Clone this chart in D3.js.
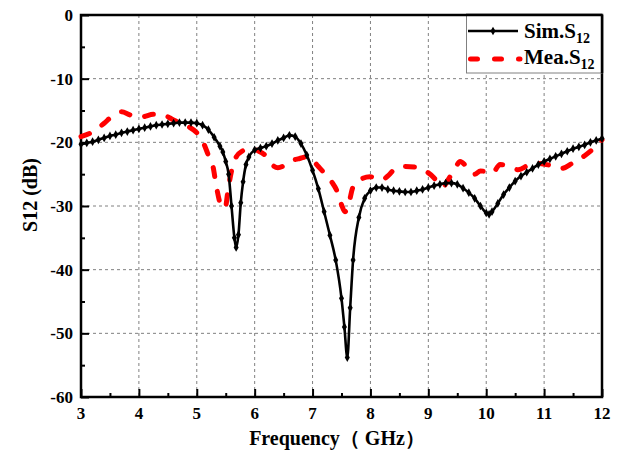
<!DOCTYPE html>
<html><head><meta charset="utf-8">
<script src="https://cdn.jsdelivr.net/npm/d3@7"></script>
<style>body{margin:0;background:#fff}svg{display:block}text{font-family:"Liberation Serif","Times New Roman",serif;font-weight:bold;fill:#000}</style>
</head><body><svg id="c" width="618" height="450"></svg>
<script>
const simFreq = [3.0,3.1,3.2,3.3,3.4,3.5,3.6,3.7,3.8,3.9,4.0,4.1,4.2,4.3,4.4,4.5,4.6,4.7,4.8,4.9,5.0,5.1,5.2,5.3,5.4,5.45,5.5,5.55,5.6,5.65,5.68,5.72,5.76,5.8,5.85,5.9,6.0,6.1,6.2,6.3,6.4,6.5,6.6,6.7,6.8,6.9,7.0,7.1,7.2,7.3,7.4,7.5,7.55,7.6,7.65,7.7,7.8,7.9,8.0,8.1,8.2,8.3,8.4,8.5,8.6,8.7,8.8,8.9,9.0,9.1,9.2,9.3,9.4,9.5,9.6,9.7,9.8,9.9,10.0,10.05,10.1,10.2,10.3,10.4,10.5,10.6,10.7,10.8,10.9,11.0,11.1,11.2,11.3,11.4,11.5,11.6,11.7,11.8,11.9,12.0];
const simS12 = [-20.3,-20.1,-19.9,-19.6,-19.3,-19.0,-18.8,-18.5,-18.3,-18.1,-17.9,-17.7,-17.5,-17.3,-17.2,-17.1,-17.0,-16.9,-16.9,-16.9,-17.0,-17.3,-18.0,-19.2,-20.6,-21.5,-23.0,-25.0,-30.0,-35.0,-36.5,-34.5,-29.5,-26.2,-23.5,-22.3,-21.2,-20.9,-20.6,-20.2,-19.7,-19.3,-18.9,-19.1,-20.2,-22.0,-24.4,-27.3,-30.9,-34.6,-38.5,-44.5,-49.0,-53.8,-46.0,-38.5,-31.8,-28.8,-27.6,-27.1,-27.1,-27.4,-27.6,-27.7,-27.8,-27.8,-27.6,-27.4,-27.1,-26.8,-26.6,-26.4,-26.4,-26.6,-27.2,-27.9,-28.8,-30.0,-31.1,-31.3,-30.9,-29.6,-28.2,-27.1,-26.1,-25.3,-24.7,-24.1,-23.5,-23.0,-22.6,-22.2,-21.8,-21.4,-21.0,-20.7,-20.4,-20.0,-19.7,-19.4];
const meaFreq = [3.0,3.15,3.4,3.55,3.7,3.85,4.05,4.25,4.42,4.6,4.85,5.0,5.1,5.2,5.28,5.34,5.43,5.49,5.54,5.6,5.68,5.8,5.92,6.05,6.2,6.3,6.4,6.5,6.6,6.75,6.9,7.0,7.1,7.2,7.33,7.42,7.5,7.56,7.62,7.7,7.82,7.99,8.12,8.2,8.3,8.45,8.6,8.8,8.95,9.1,9.2,9.25,9.34,9.45,9.55,9.66,9.8,9.9,10.0,10.1,10.24,10.41,10.55,10.75,10.9,11.1,11.3,11.5,11.7,11.85,12.0];
const meaS12 = [-19.1,-18.6,-17.0,-15.8,-15.2,-15.7,-16.0,-15.6,-15.7,-16.5,-17.5,-18.5,-19.8,-22.0,-23.8,-27.0,-30.1,-30.3,-27.5,-24.5,-22.3,-21.3,-20.9,-21.3,-22.2,-23.5,-24.0,-23.7,-23.0,-22.6,-22.3,-22.8,-23.8,-24.8,-26.2,-27.6,-29.8,-30.9,-29.8,-27.0,-25.9,-25.4,-25.7,-25.9,-25.3,-24.0,-23.8,-23.9,-24.5,-25.6,-26.8,-27.0,-25.9,-24.3,-23.0,-23.8,-25.0,-24.5,-24.6,-24.9,-23.5,-23.8,-24.3,-23.5,-23.3,-23.6,-24.1,-23.2,-22.1,-21.0,-19.6];
const xTicks = [3,4,5,6,7,8,9,10,11,12];
const yTicks = [0,-10,-20,-30,-40,-50,-60];
const seriesNames = ["Sim.S", "Mea.S"];

const svg = d3.select("#c");
const L=81, R=602, T=15, B=397;
const x = d3.scaleLinear().domain([3,12]).range([L,R]);
const y = d3.scaleLinear().domain([-60,0]).range([B,T]);

// grid
const g = svg.append("g");
g.selectAll(".gx").data(xTicks.slice(1,-1)).enter().append("line")
 .attr("x1",d=>x(d)).attr("x2",d=>x(d)).attr("y1",T).attr("y2",B)
 .attr("stroke","#808080").attr("stroke-width",1).attr("stroke-dasharray","3,3");
g.selectAll(".gy").data(yTicks.slice(1,-1)).enter().append("line")
 .attr("y1",d=>y(d)).attr("y2",d=>y(d)).attr("x1",L).attr("x2",R)
 .attr("stroke","#808080").attr("stroke-width",1).attr("stroke-dasharray","3,3");

// axes (inward ticks)
const xAxis = d3.axisBottom(x).tickValues(d3.range(3,12.01,0.5)).tickSize(-4).tickSizeOuter(0).tickFormat("");
const xg = svg.append("g").attr("transform",`translate(0,${B})`).call(xAxis);
xg.selectAll(".tick line").attr("y2",d=>Number.isInteger(d)?-8:-4).attr("stroke-width",2);
const yAxis = d3.axisLeft(y).tickValues(d3.range(-60,0.01,5)).tickSize(-4).tickSizeOuter(0).tickFormat("");
const yg = svg.append("g").attr("transform",`translate(${L},0)`).call(yAxis);
yg.selectAll(".tick line").attr("x2",d=>d%10===0?8:4).attr("stroke-width",2);
svg.selectAll(".domain").remove();

svg.append("g").selectAll("text").data(xTicks).enter().append("text")
 .attr("x",d=>x(d)).attr("y",B+22).attr("text-anchor","middle").attr("font-size",17).text(d=>d);
svg.append("g").selectAll("text").data(yTicks).enter().append("text")
 .attr("x",L-8).attr("y",d=>y(d)+6).attr("text-anchor","end").attr("font-size",17).text(d=>d);

// frame
svg.append("rect").attr("x",L).attr("y",T).attr("width",R-L).attr("height",B-T)
 .attr("fill","none").attr("stroke","#000").attr("stroke-width",2.5);

// series
const meaData = meaFreq.map((f,i)=>[f,meaS12[i]]);
const simData = simFreq.map((f,i)=>[f,simS12[i]]);
const line = d3.line().x(d=>x(d[0])).y(d=>y(d[1])).curve(d3.curveMonotoneX);
svg.append("path").attr("d",line(meaData)).attr("fill","none").attr("stroke","#ff0000")
 .attr("stroke-width",5).attr("stroke-dasharray","9,15").attr("stroke-linecap","round");
svg.append("path").attr("d",line(simData)).attr("fill","none").attr("stroke","#000").attr("stroke-width",2.6);
const diamond = d3.symbol().type(d3.symbolDiamond).size(22);
svg.append("g").selectAll("path").data(simData).enter().append("path")
 .attr("d",diamond).attr("transform",d=>`translate(${x(d[0])},${y(d[1])})`).attr("fill","#000");

// legend
const lg = svg.append("g");
lg.append("rect").attr("x",466.5).attr("y",T).attr("width",R-466.5).attr("height",58)
 .attr("fill","#fff").attr("stroke","#808080").attr("stroke-width",1);
lg.append("line").attr("x1",R).attr("x2",R).attr("y1",T).attr("y2",T+58).attr("stroke","#000").attr("stroke-width",2.5);
lg.append("line").attr("x1",466).attr("x2",R).attr("y1",T).attr("y2",T).attr("stroke","#000").attr("stroke-width",2.5);
lg.append("line").attr("x1",468).attr("x2",518).attr("y1",31).attr("y2",31).attr("stroke","#000").attr("stroke-width",2.5);
lg.append("path").attr("d",diamond).attr("transform","translate(493,31)");
lg.append("line").attr("x1",470.5).attr("x2",520).attr("y1",59).attr("y2",59).attr("stroke","#ff0000")
 .attr("stroke-width",5).attr("stroke-dasharray","7,17").attr("stroke-linecap","round");
[[seriesNames[0],38],[seriesNames[1],64]].forEach(([t,yy])=>{
  const tx = lg.append("text").attr("x",524).attr("y",yy).attr("font-size",21);
  tx.append("tspan").text(t);
  tx.append("tspan").attr("dy",5).attr("font-size",14).text("12");
});

// titles
svg.append("text").attr("x",337).attr("y",445).attr("text-anchor","middle").attr("font-size",20)
 .text("Frequency（ GHz）");
svg.append("text").attr("transform","translate(37,195) rotate(-90)").attr("text-anchor","middle").attr("font-size",20)
 .text("S12 (dB)");
</script></body></html>
